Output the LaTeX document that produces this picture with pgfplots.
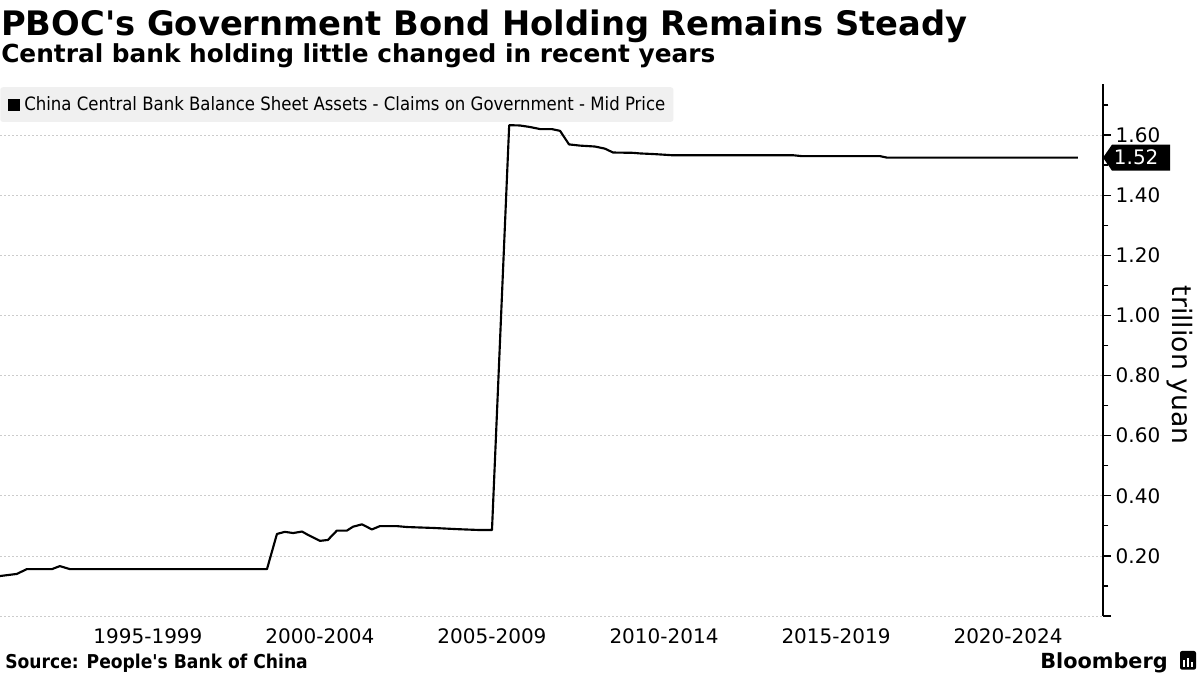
\documentclass[border=0pt]{standalone}
\usepackage{fontspec}
\setmainfont{DejaVu Sans}
\newfontfamily\condfont{DejaVu Sans Condensed}
\usepackage{pgfplots}
\pgfplotsset{compat=1.18}
\definecolor{gridgray}{HTML}{CCCCCC}
\definecolor{leggray}{HTML}{F0F0F0}
\pgfplotstableread{
year value
1993.20 0.133
1993.69 0.140
1993.98 0.156
1994.71 0.156
1994.94 0.166
1995.23 0.156
2000.96 0.156
2001.25 0.273
2001.48 0.280
2001.72 0.276
2001.98 0.281
2002.15 0.270
2002.50 0.250
2002.73 0.253
2002.99 0.284
2003.28 0.284
2003.46 0.297
2003.72 0.305
2004.01 0.288
2004.24 0.299
2004.74 0.299
2005.03 0.296
2005.78 0.293
2006.48 0.289
2007.15 0.286
2007.50 0.286
2008.00 1.633
2008.31 1.632
2008.60 1.627
2008.90 1.620
2009.24 1.620
2009.48 1.614
2009.56 1.600
2009.74 1.569
2010.06 1.565
2010.49 1.562
2010.78 1.555
2011.02 1.542
2011.60 1.541
2011.80 1.539
2012.18 1.537
2012.47 1.535
2012.73 1.533
2016.25 1.533
2016.51 1.530
2018.78 1.530
2018.98 1.525
2024.53 1.525
}\datatable
\begin{document}
\begin{tikzpicture}
\path[use as bounding box] (0,0) rectangle (900pt,506.25pt);
\fill[white] (0,0) rectangle (900pt,506.25pt);
\begin{axis}[
  at={(0pt,44.25pt)}, anchor=south west,
  width=827.25pt, height=399pt, scale only axis,
  xmin=1993.2, xmax=2025.26, ymin=0, ymax=1.77,
  axis x line=bottom, axis y line=right, axis line style={-},
  x axis line style={draw=none},
  y axis line style={line width=1.1pt},
  xtick={1997.5,2002.5,2007.5,2012.5,2017.5,2022.5},
  xticklabels={1995-1999,2000-2004,2005-2009,2010-2014,2015-2019,2020-2024},
  x tick style={draw=none},
  ytick={0,0.2,0.4,0.6,0.8,1.0,1.2,1.4,1.6},
  yticklabels={,0.20,0.40,0.60,0.80,1.00,1.20,1.40,1.60},
  minor ytick={0.1,0.3,0.5,0.7,0.9,1.1,1.3,1.5,1.7},
  ymajorgrids,
  major grid style={gridgray, line width=0.5pt, dash pattern=on 1.5pt off 1.5pt},
  tick align=outside,
  major tick length=6pt, minor tick length=4pt,
  y tick style={line width=1pt, black},
  every tick label/.append style={font=\fontsize{15}{15}\selectfont},
  /pgf/number format/assume math mode=true,
  clip=false,
  legend style={at={(rel axis cs:0,0.9944)}, anchor=north west, fill=leggray, draw=none,
    font=\condfont\fontsize{13.8}{16}\selectfont, inner xsep=4pt, inner ysep=5pt, rounded corners=2pt},
  legend cell align=left,
  legend image code/.code={\path[draw=none, fill=none] (0pt,0pt) -- (12pt,0pt);\path[fill=black, draw=none, sharp corners] (1.5pt,-5pt) rectangle (11pt,4.5pt);},
]
\addplot[black, line width=1.6pt, line join=round] table[x=year, y=value] {\datatable};
\addlegendentry{China Central Bank Balance Sheet Assets - Claims on Government - Mid Price}
\coordinate (tip) at (axis cs:2025.26,1.525);
\end{axis}
\fill[black] (tip) -- ++(6.75pt,9.75pt) -- ++(43.5pt,0) -- ++(0,-19.5pt) -- ++(-43.5pt,0) -- cycle;
\node[white, anchor=west, inner sep=0, font=\fontsize{15}{15}\selectfont] at ([xshift=8pt]tip) {1.52};
\node[anchor=base west, inner sep=0, font=\bfseries\fontsize{25.3}{28}\selectfont] at (0.75pt,479.25pt) {PBOC\textquotesingle s Government Bond Holding Remains Steady};
\node[anchor=base west, inner sep=0, font=\bfseries\fontsize{18.6}{20}\selectfont] at (0.75pt,459pt) {Central bank holding little changed in recent years};
\node[anchor=base west, inner sep=0, font=\condfont\bfseries\fontsize{14.3}{16}\selectfont] at (3.75pt,5.25pt) {Source: People\textquotesingle s Bank of China};
\node[anchor=base east, inner sep=0, font=\bfseries\fontsize{15.6}{18}\selectfont] at (876pt,5.25pt) {Bloomberg};
\fill[black, rounded corners=1.5pt] (885pt,4pt) rectangle (897pt,18pt);
\foreach \xx/\hh in {887.5/5,890.3/7,893.1/4}{\fill[white] (\xx pt,6pt) rectangle ++(1.6pt,\hh pt);}
\node[rotate=-90, inner sep=0, font=\fontsize{20}{22}\selectfont] at (885pt,232.5pt) {trillion yuan};
\end{tikzpicture}
\end{document}
